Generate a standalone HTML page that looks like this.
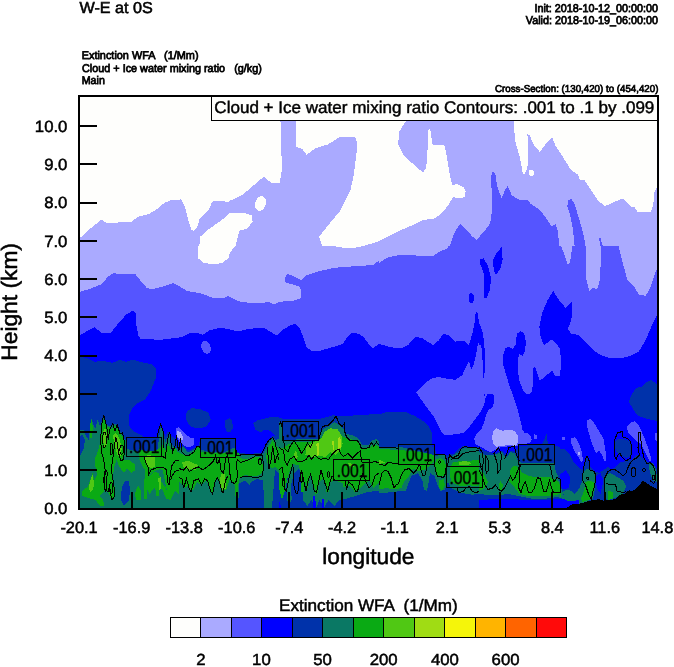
<!DOCTYPE html>
<html><head><meta charset="utf-8"><title>W-E at 0S</title>
<style>
html,body{margin:0;padding:0;background:#fff;}
body{width:674px;height:667px;position:relative;overflow:hidden;font-family:"Liberation Sans",sans-serif;color:#000;}
.t{position:absolute;white-space:nowrap;line-height:1;will-change:transform;-webkit-font-smoothing:antialiased;}
</style></head><body>
<svg width="674" height="667" viewBox="0 0 674 667" style="position:absolute;left:0;top:0" shape-rendering="crispEdges">
<defs><clipPath id="pc"><rect x="79" y="96" width="579" height="412"/></clipPath></defs>
<g clip-path="url(#pc)">
<rect x="79" y="96" width="579" height="412" fill="#AAAAFF"/>
<polygon points="79,96 279.6,96.0 281.2,141.0 281.8,170.2 279.6,183.3 271.7,183.3 263.9,176.5 251.5,187.1 242.5,195.0 229.0,201.2 229.0,201.7 213.9,201.0 211.7,202.8 208.3,210.7 199.3,219.7 197.1,227.6 194.1,230.9 191.4,229.8 188.1,219.7 184.7,206.2 181.3,199.4 171.2,200.1 164.5,202.8 155.5,210.2 148.7,214.1 137.5,217.0 131.8,221.5 119.5,222.4 107.1,223.1 101.5,219.7 90.2,228.7 79.0,238.8" fill="#FEFEFC" />
<polygon points="295.3,96.0 295.8,146.6 302.1,148.8 306.6,154.9 315.6,148.2 328.0,144.4 340.3,136.5 356.1,137.6 357.2,147.7 353.8,174.7 350.4,190.5 340.3,210.7 329.1,224.2 319.0,236.6 322.3,246.0 332.4,246.0 343.7,247.8 354.9,247.8 363.9,246.0 379.0,241.1 390.2,235.4 401.5,229.8 415.0,224.2 424.0,219.7 433.0,219.2 439.7,215.2 447.6,206.2 453.2,197.2 458.8,198.3 464.5,197.2 465.6,191.6 463.3,187.1 457.7,184.2 452.1,184.8 449.8,174.7 446.5,154.5 444.2,144.4 438.6,145.5 432.5,144.4 430.3,129.3 428.0,129.7 427.4,154.5 426.2,168.0 422.9,172.5 415.0,165.7 403.7,155.6 398.1,144.4 399.2,132.0 406.0,120.7 406.0,96.0" fill="#FEFEFC" />
<polygon points="513.5,96.0 513.5,120.7 515.1,141.0 519.6,156.7 522.9,173.6 524.0,174.7 527.4,168.0 528.5,152.2 527.4,134.2 529.6,135.4 534.1,145.5 539.7,151.8 546.5,143.2 552.1,137.2 555.5,145.5 563.4,157.8 571.2,170.2 578.0,174.7 580.2,180.3 584.7,180.3 591.5,190.5 598.2,200.6 605.0,206.2 610.6,203.5 616.2,201.2 623.0,198.3 627.4,202.8 631.9,207.3 634.2,206.2 637.6,212.5 643.2,211.8 651.1,211.8 653.3,203.9 654.4,192.7 656.7,187.1 658.9,186.0 658.9,96.0" fill="#FEFEFC" />
<polygon points="199.3,246.0 200.4,236.6 209.4,228.7 220.7,220.8 229.0,214.1 229.0,212.9 242.5,212.5 251.5,215.2 252.6,221.9 247.0,228.7 239.1,230.9 235.7,246.0 235.7,246.0 232.4,249.4 229.0,255.0 229.0,257.2 222.9,262.9 213.9,264.4 203.8,262.9 198.2,258.4 198.2,246.0" fill="#FEFEFC" />
<ellipse cx="260.5" cy="203.5" rx="5.2" ry="7.6" fill="#FEFEFC" transform="rotate(15 260.5 203.5)"/>
<ellipse cx="531.4" cy="173" rx="2.7" ry="3.2" fill="#FEFEFC" transform="rotate(0 531.4 173)"/>
<polygon points="79.0,292.1 90.2,288.7 101.5,284.2 108.2,276.4 112.7,273.4 135.2,274.1 139.7,279.7 146.5,287.6 151.0,289.4 162.2,286.9 173.5,283.1 178.0,285.4 186.9,291.0 200.4,293.2 213.9,298.2 222.9,298.2 229.0,295.9 229.0,296.6 238.0,301.1 251.5,303.3 262.7,302.7 269.5,302.2 274.0,304.5 279.6,301.8 294.2,300.6 300.5,298.2 301.4,289.9 299.2,286.5 292.0,284.2 285.2,282.4 284.5,278.6 287.0,274.1 290.8,274.8 296.5,277.5 301.4,280.2 306.6,275.2 319.0,271.2 334.7,267.8 354.9,266.2 372.9,265.1 379.0,260.6 379.0,262.9 388.0,257.2 399.2,255.0 412.7,255.4 433.0,256.1 439.7,251.6 447.6,248.2 448.7,246.0 449.8,246.0 454.3,233.2 460.0,223.7 465.6,228.7 472.3,236.6 476.8,239.9 482.4,233.2 489.2,225.3 491.4,217.4 492.1,197.2 490.8,177.0 492.6,171.3 495.3,173.6 497.1,186.0 501.6,198.3 504.9,190.5 507.6,186.0 511.7,195.0 518.4,199.4 529.0,200.6 530.7,203.9 537.5,208.4 544.2,215.2 548.7,221.9 551.0,226.4 555.5,224.2 557.7,230.9 559.5,246.0 561.1,246.0 564.5,255.0 567.9,265.1 570.1,261.7 572.4,246.0 574.6,246.0 573.9,237.7 572.4,226.4 570.1,215.2 567.4,206.2 567.9,200.6 571.2,199.0 574.6,203.9 578.0,215.2 581.3,226.4 584.3,237.7 585.2,246.0 585.8,246.0 586.5,279.7 589.2,291.0 593.7,287.6 597.1,289.9 600.0,279.7 600.9,257.2 600.5,246.0 599.3,239.9 599.8,235.4 601.6,242.2 602.7,246.0 618.5,246.0 623.0,264.0 627.4,279.7 634.2,286.5 638.7,294.4 645.4,295.9 649.9,288.7 654.4,275.2 658.9,264.0 658,508 79,508" fill="#5555FF" />
<polygon points="79.0,336.0 88.0,330.3 94.7,327.4 101.5,332.6 110.5,333.3 117.2,324.7 126.2,314.6 133.0,310.5 136.3,313.5 136.3,324.7 138.6,336.0 140.8,339.3 151.0,338.7 156.6,340.5 169.0,338.7 182.4,337.1 189.2,333.3 195.9,332.6 202.7,334.8 209.4,330.3 218.4,328.1 229.0,328.8 229.0,329.2 238.0,331.5 244.7,329.7 256.0,328.1 265.0,328.5 271.7,332.6 276.7,335.5 281.8,330.3 289.7,325.8 295.3,323.6 299.8,328.1 303.2,337.1 306.6,347.2 311.1,350.6 319.0,351.2 325.7,349.0 336.9,346.1 342.6,343.8 348.2,336.0 352.7,332.6 358.3,333.7 363.9,337.1 368.4,343.8 372.9,348.3 379.0,343.8 379.0,343.8 390.2,347.2 401.5,348.3 408.2,345.0 415.0,337.1 421.7,337.8 433.0,345.0 438.6,340.5 443.1,334.2 448.7,334.8 455.5,341.6 463.3,340.5 469.0,345.0 472.3,333.7 474.6,322.5 475.7,312.3 477.3,312.3 479.1,322.5 482.4,331.5 484.2,342.7 485.1,358.4 484.7,371.9 483.6,379.8 484.2,396.0 484,508 79,508" fill="#0000FF" />
<polygon points="479.7,345.0 480.2,362.9 481.3,377.6 483.6,379.8 482.4,358.4 481.3,345.0" fill="#5555FF" />
<ellipse cx="471.2" cy="298.2" rx="2.7" ry="5" fill="#0000FF" transform="rotate(0 471.2 298.2)"/>
<polygon points="480.2,259.5 483.6,258.4 488.1,266.2 490.8,277.5 490.3,288.7 486.9,297.7 483.6,297.7 484.0,286.5 483.6,273.0 480.2,264.0" fill="#0000FF" />
<polygon points="501.6,247.1 502.7,259.5 500.4,268.5 495.9,274.8 493.7,270.7 493.2,259.5 495.9,253.9" fill="#0000FF" />
<polygon points="519.6,331.5 524.1,334.8 525.6,342.7 524.1,351.7 520.2,355.1 516.6,349.4 515.7,340.5 517.3,333.7" fill="#0000FF" />
<ellipse cx="206" cy="347.2" rx="4.5" ry="6.7" fill="#5555FF" transform="rotate(-20 206 347.2)"/>
<polygon points="658.9,311.2 652.2,324.7 645.4,340.5 638.7,351.7 629.7,356.2 620.7,358.4 609.5,358.0 600.5,355.1 593.7,350.6 584.7,341.6 578.0,334.8 571.2,333.7 567.9,329.2 571.2,320.2 572.4,311.2 571.7,302.2 565.6,307.8 558.9,300.0 553.2,291.0 547.6,300.0 542.0,313.5 539.3,327.0 540.9,338.2 544.2,345.0 552.1,339.3 560.0,348.3 561.1,362.9 560.0,376.4 555.5,376.4 552.1,370.8 546.5,375.3 539.7,380.9 535.2,367.4 534.1,376.4 533.0,389.9 531.9,396.0 532,508 658,508" fill="#0000FF" />
<polygon points="483.5,394 533,394 533,508 483.5,508" fill="#0000FF" />
<polygon points="485,372 484.5,396 485.0,387.1 487.7,393.4 490.3,389.8 493.0,392.5 494.4,399.6 493.0,406.7 488.5,410.3 485.9,415.6 484.1,422.7 481.4,429.0 477.0,433.4 474.3,438.8 475.2,444.1 480.5,446.8 484.1,448.5 487.7,451.2 491.2,452.1 494.8,450.3 498.3,447.7 509.0,446.2 517.0,445.9 525.0,444.5 530.4,442.3 531.8,439.6 530.4,436.1 527.7,433.4 525.0,433.4 523.3,430.7 522.4,429.9 520.6,420.9 517.9,410.3 514.4,399.6 510.8,388.9 507.2,380.0 514.4,399.4 509.9,387.0 505.5,372.7" fill="#5555FF" />
<polygon points="502.8,356.7 505.5,347.8 509.0,346.9 512.6,348.7 516.1,344.2 517.0,335.3 520.6,330.9 524.2,333.6 525.9,342.5 525.0,351.4 522.4,355.8 519.7,354.0 517.9,358.5 517.9,370.9 519.7,381.6 523.3,390.5 526.8,394.1 530.4,392.3 532.2,383.4 533.1,370.9 533.9,365.6 536.6,370.9 537.5,378.1 540.0,381.6 540.0,409.9 518.8,409.9 514.4,399.4 509.9,387.0 505.5,372.7 502.8,363.8" fill="#0000FF" />
<polygon points="519.7,376.4 519.7,380.0 522.4,387.1 525.0,393.4 529.5,394.2 532.2,390.7 533.1,380.0 533.1,376.4" fill="#5555FF" />
<polygon points="416.1,392.2 424.0,384.3 430.7,378.7 438.6,376.9 446.5,378.7 455.5,379.8 462.2,375.3 465.6,367.4 469.0,360.7 471.2,369.7 473.5,365.2 476.2,353.9 478.0,342.7 479.7,345.0 480.2,362.9 481.3,377.6 483.6,379.8 484.5,396 485.0,387.1 487.7,393.4 485.0,399.6 484.1,404.9 480.5,412.0 475.2,419.2 469.9,426.3 464.5,432.5 455.6,434.3 444.9,435.2 441.4,431.6 437.8,424.5 434.2,417.4 428.9,410.3 423.6,403.1 420.0,397.8" fill="#5555FF" />
<polygon points="493.0,431.6 496.6,428.1 501.9,430.7 509.0,429.9 514.4,430.7 517.6,435.2 517.9,442.3 516.1,445.9 509.0,445.0 501.9,445.9 496.6,446.8 493.0,443.2 492.1,437.0" fill="#AAAAFF" />
<polygon points="587.0,420.5 590.7,419.0 594.5,423.5 599.0,431.0 603.5,438.5 605.0,447.5 606.5,458.0 605.0,462.5 602.0,455.0 599.0,450.5 596.0,453.5 593.0,446.0 590.0,437.0 587.0,426.5" fill="#5555FF" />
<polygon points="571.2,438.5 575.0,437.0 578.7,443.0 581.7,452.0 583.2,461.0 581.0,462.5 578.0,456.5 574.2,450.5 571.2,443.0" fill="#5555FF" />
<polygon points="626.7,426.5 630.5,422.7 635.0,421.2 639.5,426.5 644.0,437.0 648.5,449.0 651.5,459.5 650.0,461.7 645.5,453.5 641.0,444.5 636.5,441.5 632.0,437.0 628.2,432.5" fill="#5555FF" />
<polygon points="654.5,434.0 658.2,431.7 658.2,441.5 655.2,440.0" fill="#5555FF" />
<polygon points="561.8,436.7 565.2,437.0 565.2,440.0 562.2,439.7" fill="#5555FF" />
<polygon points="533.7,433.2 536.7,435.5 536.7,439.2 533.7,438.5" fill="#5555FF" />
<polygon points="577.7,452.3 579.8,452.3 579.8,454.7 577.7,454.7" fill="#AAAAFF" />
<polygon points="79.0,356.2 88.0,358.4 94.7,361.8 101.5,360.7 112.7,362.9 119.5,359.6 126.2,361.8 133.0,359.6 139.7,361.8 151.0,364.1 156.6,368.6 155.5,378.7 151.0,389.9 147.6,396.0 144.2,400.2 138.6,402.5 133.0,407.0 129.6,413.7 128.5,421.6 128.5,425.0 133.0,431.0 139.0,434.0 143.5,436.7 157.0,436.7 158.5,428.0 160.7,422.7 163.0,429.5 165.2,436.7 168.2,431.0 170.5,435.5 175.0,438.5 179.0,446.0 179.0,447.5 183.5,445.2 188.0,450.5 194.0,448.2 198.5,445.2 200.7,438.5 235.2,438.5 236.7,452.0 245.0,453.5 254.0,453.5 263.0,452.7 266.0,446.0 269.0,440.0 272.0,436.2 275.0,435.5 270.5,431.0 264.5,429.5 260.0,432.5 255.5,429.5 253.2,423.5 257.0,420.5 263.0,419.0 269.0,417.5 275.0,416.7 279.0,417.5 283.5,419.0 318.0,419.0 322.5,418.2 328.5,416.7 333.0,415.2 339.0,416.0 346.5,416.0 357.0,415.2 369.0,414.5 379.0,413.7 379.0,414.5 386.5,412.2 397.0,411.5 406.0,412.2 415.0,416.0 422.5,420.5 428.5,426.5 431.5,432.5 431.5,444.5 435.2,449.0 436.0,455.0 446.5,455.0 454.0,453.5 458.5,449.0 463.0,446.0 479.0,447.5 483.5,450.5 494.0,453.5 501.5,450.5 506.0,455.0 510.5,450.5 515.0,452.0 519.5,446.0 542.0,444.5 546.5,434.0 548.0,444.5 554.7,445.2 560.0,447.5 560.0,449.0 564.5,449.0 569.0,453.5 573.5,462.5 578.0,467.0 582.5,470.0 587.0,456.5 590.0,467.0 594.5,471.5 599.0,473.0 603.5,470.0 608.0,467.0 611.0,470.0 615.5,467.0 620.0,462.5 626.0,461.0 632.0,459.5 636.5,455.0 641.0,456.5 645.5,461.0 650.0,462.5 659.0,470.0 658,508 79,508" fill="#0032AA" />
<polygon points="186.9,411.5 191.4,408.1 200.4,409.2 208.3,412.6 210.6,419.4 207.2,426.1 200.4,428.4 191.4,427.2 186.9,421.6 185.8,416.0" fill="#0032AA" />
<polygon points="225.5,420.5 229.2,418.2 232.2,421.2 233.0,428.0 230.0,432.5 226.2,431.0 224.7,425.0" fill="#0032AA" />
<polygon points="630.8,396 636.4,387.7 641,387.2 646.6,382 651,379.8 655.5,383.2 659,385.4 659,421.3 647,419 638,416 633.5,410 629,402" fill="#0032AA" />
<polygon points="614.0,441.5 618.5,438.5 624.5,439.2 630.5,441.5 632.0,449.0 630.5,456.5 626.0,458.0 620.0,455.0 616.2,452.0" fill="#0032AA" />
<polygon points="175.7,428.7 179.0,427.2 183.9,432.5 189.9,437.7 194.4,438.5 193.7,445.2 188.4,447.5 183.9,445.2 179.4,442.2 176.2,434.7" fill="#5555FF" />
<polygon points="176.8,431.0 180.2,431.7 183.2,437.7 182.3,440.7 179.0,439.2 176.8,435.5" fill="#AAAAFF" />
<polygon points="560.0,474.5 566.0,470.0 570.5,477.5 569.0,488.0 563.0,489.5 560.0,485.0" fill="#0000FF" />
<polygon points="596.0,476.0 600.5,473.0 603.5,480.5 600.5,494.0 596.7,488.0" fill="#0000FF" />
<polygon points="79.0,429.5 83.5,429.5 86.5,437.0 88.7,440.0 90.2,425.0 91.7,418.2 93.2,425.0 95.5,428.0 97.7,419.0 100.0,426.5 103.7,415.2 106.7,425.0 111.2,426.5 115.0,423.5 118.7,429.5 122.5,435.5 125.5,440.0 127.0,449.0 139.0,452.0 157.0,452.7 160.0,431.0 161.2,424.2 163.0,431.0 165.2,443.0 169.0,432.5 170.5,440.0 173.5,447.5 179.0,449.0 179.0,449.0 183.5,446.7 188.0,452.7 194.0,449.7 198.5,446.7 201.5,449.7 209.0,452.0 224.0,452.7 234.5,447.5 236.7,454.2 245.0,455.0 263.0,454.2 266.0,447.5 269.0,441.5 272.7,437.7 275.7,440.0 279.0,438.5 279.0,422.0 282.0,425.0 283.5,440.0 319.5,438.5 321.0,432.5 324.0,428.0 328.5,426.5 334.5,422.0 339.0,425.0 343.5,429.5 345.0,434.0 351.0,434.7 358.5,438.5 361.5,444.5 369.0,444.5 372.0,440.0 376.5,439.2 379.0,441.5 379.0,446.7 399.2,446.7 434.5,455.0 436.0,456.5 439.0,455.0 445.0,455.0 447.2,461.0 449.5,456.5 454.0,455.0 458.5,452.0 463.0,448.2 472.0,447.5 479.0,449.0 479.0,452.0 485.0,455.0 494.0,455.0 501.5,452.0 506.0,458.0 510.5,452.0 515.0,453.5 518.0,461.0 521.0,462.5 554.7,462.5 555.5,470.0 558.5,477.5 563.0,494.0 567.5,500.0 557.0,497.0 546.5,498.5 531.5,498.5 519.5,496.2 509.0,494.0 494.0,495.5 479.0,494.0 479.0,494.0 472.0,494.7 463.0,493.2 457.0,491.0 451.0,488.0 448.0,482.0 445.0,489.5 440.5,491.0 437.5,485.0 434.5,476.0 430.0,473.0 428.5,483.5 427.0,491.0 424.0,489.5 422.5,480.5 418.0,473.0 411.2,476.0 409.0,482.0 406.0,491.0 394.0,491.7 388.0,492.5 379.0,493.2 379.0,491.0 369.0,491.7 357.0,495.5 346.5,498.5 339.0,500.0 334.5,506.0 328.5,500.0 324.0,507.5 319.5,500.0 316.5,507.5 311.2,500.0 307.5,506.0 303.0,500.0 301.5,473.0 298.5,468.5 294.0,473.0 291.0,485.0 291.7,500.0 288.0,507.5 286.5,488.0 288.0,476.0 285.0,470.0 279.0,467.0 279.0,473.0 275.0,470.0 272.0,507.5 264.5,507.5 263.0,480.5 257.0,479.0 251.0,482.0 249.5,485.0 245.0,480.5 239.0,483.5 238.2,507.5 179.0,507.5 79,508" fill="#0A7864" />
<polygon points="582.5,473.0 587.0,468.5 592.2,470.0 596.0,476.0 595.2,488.0 593.0,498.5 584.0,503.0 575.0,504.5 569.0,506.0 564.5,500.0 563.0,491.0 569.0,489.5 575.0,494.0 579.5,488.0 582.5,480.5" fill="#0A7864" />
<polygon points="605.0,476.0 609.5,473.0 615.5,476.0 623.0,480.5 626.0,486.5 623.0,494.0 617.0,497.0 608.0,500.0 603.5,497.0 603.5,485.0" fill="#0A7864" />
<polygon points="648.5,464.0 653.0,462.5 656.0,470.0 657.5,482.0 653.0,480.5 650.0,473.0" fill="#0A7864" />
<polygon points="121.7,488.0 125.5,480.5 128.5,480.5 130.0,488.0 129.2,500.0 124.0,506.0 121.0,500.0" fill="#0032AA" />
<polygon points="79.0,437.0 82.0,434.0 85.0,440.0 83.5,449.0 80.5,455.0 79.0,452.0" fill="#0032AA" />
<polygon points="101.5,425.0 104.5,417.5 107.5,426.5 111.2,429.5 115.0,425.0 119.5,432.5 124.0,438.5 125.5,449.0 124.0,459.5 128.5,459.5 134.5,464.0 135.2,470.0 131.5,473.0 127.0,468.5 124.0,473.0 119.5,467.0 116.5,459.5 114.2,467.0 112.7,477.5 115.0,488.0 114.2,497.0 111.2,500.0 109.0,494.0 105.2,489.5 101.5,494.0 97.0,498.5 94.0,494.0 91.7,488.0 94.0,480.5 97.0,474.5 95.5,467.0 94.7,459.5 97.7,452.0 100.0,443.0 100.7,432.5" fill="#0AAA14" />
<polygon points="82.0,491.0 88.0,486.5 92.5,473.0 94.0,479.0 95.5,488.0 98.5,494.0 103.0,500.0 104.5,506.0 100.0,506.0 95.5,500.0 89.5,498.5 85.0,497.0 82.0,495.5" fill="#0AAA14" />
<polygon points="89.5,428.0 91.3,419.0 92.8,426.5 92.2,437.0 90.2,438.5" fill="#0AAA14" />
<polygon points="139.0,459.5 143.5,455.0 161.5,455.0 166.0,449.0 169.0,455.0 175.0,459.5 179.0,459.5 179.0,473.0 175.0,470.0 170.5,473.0 169.0,485.0 167.5,473.0 163.0,468.5 157.0,470.0 151.0,473.0 148.0,476.0 145.0,470.0 142.0,465.5" fill="#0AAA14" />
<polygon points="134.5,494.0 138.2,485.0 141.2,491.0 140.5,500.0 136.7,500.0" fill="#0AAA14" />
<polygon points="145.0,467.0 149.5,476.0 154.0,471.5 158.5,473.0 161.5,482.0 166.0,488.0 169.0,497.0 172.0,485.0 175.0,474.5 179.0,476.0 179.0,494.0 175.0,491.0 170.5,500.0 166.0,498.5 163.0,491.0 158.5,485.0 154.0,488.0 149.5,494.0 146.5,488.0 145.0,479.0" fill="#0AAA14" />
<polygon points="139.0,448.9 144.9,451.1 156.8,450.4 162.7,444.5 165.7,450.4 168.7,443.0 170.9,450.4 174.6,445.9 177.6,451.9 183.5,454.8 189.4,454.8 195.4,448.9 198.3,445.9 201.3,451.9 213.2,452.6 222.1,453.4 231.0,452.6 239.0,453.4 239.0,477.1 234.0,483.0 231.0,475.6 226.5,489.0 222.1,491.9 219.1,478.6 214.7,475.6 211.7,489.0 208.7,477.1 198.3,476.4 193.9,489.0 190.9,491.9 188.0,478.6 179.1,477.1 174.6,475.6 170.9,489.0 168.7,497.9 165.7,484.5 162.7,469.7 156.8,468.9 150.9,469.7 147.9,475.6 144.9,469.7 142.0,460.8 139.0,457.8" fill="#0AAA14" />
<polygon points="143.5,478.6 147.9,478.6 146.9,499.3 144.5,499.3" fill="#0AAA14" />
<polygon points="153.8,477.1 161.3,477.1 158.7,496.4 156.4,496.4" fill="#0AAA14" />
<polygon points="188.0,477.1 193.9,477.1 192.1,491.9 189.7,491.9" fill="#0AAA14" />
<polygon points="234.0,477.1 239.0,477.1 237.7,496.4 235.3,496.4" fill="#0AAA14" />
<polygon points="179.0,453.5 183.5,455.0 188.0,455.0 192.5,452.0 197.0,449.0 201.5,453.5 209.0,455.0 216.5,454.2 224.0,455.0 230.0,456.5 234.5,449.0 236.7,455.0 240.5,458.0 245.0,459.5 251.0,458.0 257.0,456.5 261.5,458.0 263.0,467.0 262.2,473.0 257.0,476.0 249.5,476.0 245.0,474.5 240.5,477.5 236.7,482.0 233.0,483.5 230.0,480.5 227.0,477.5 224.0,491.0 222.5,492.5 219.5,482.0 216.5,477.5 214.2,488.0 212.0,494.0 209.0,486.5 206.0,480.5 201.5,485.0 197.0,482.0 194.0,488.0 191.0,492.5 188.0,485.0 185.0,488.0 182.0,485.0 179.0,482.0" fill="#0AAA14" />
<polygon points="266.0,455.0 269.0,446.0 272.7,440.0 275.7,444.5 279.0,449.0 279.0,470.0 275.0,467.0 272.0,468.5 269.0,465.5 266.7,461.0" fill="#0AAA14" />
<polygon points="279.0,449.0 283.5,447.5 288.0,444.5 294.0,442.2 301.5,441.5 309.0,442.2 316.5,440.0 322.5,437.0 325.5,432.5 333.0,430.2 339.0,432.5 343.5,437.0 348.0,438.5 357.0,440.7 360.7,447.5 369.0,447.5 373.5,444.5 379.0,446.0 379.0,482.0 373.5,488.0 369.0,480.5 363.0,485.0 357.0,491.7 354.0,491.0 349.5,486.5 343.5,483.5 334.5,480.5 330.0,482.0 327.0,491.0 324.0,477.5 319.5,482.0 316.5,494.0 313.5,485.0 310.5,474.5 307.5,488.0 304.5,480.5 301.5,470.0 298.5,465.5 292.5,464.0 288.0,476.0 285.0,491.0 282.0,500.0 279.0,488.0" fill="#0AAA14" />
<polygon points="379.0,449.0 394.0,449.7 409.0,450.8 424.0,452.7 434.5,455.0 435.2,461.0 430.0,465.5 424.0,470.0 416.5,471.5 413.5,468.5 409.0,476.0 404.5,480.5 401.5,488.0 394.0,489.5 386.5,488.0 379.0,489.5" fill="#0AAA14" />
<polygon points="436.0,459.5 440.5,458.0 445.0,461.0 446.5,470.0 445.0,476.0 439.0,476.7 436.0,473.0 434.5,465.5" fill="#0AAA14" />
<polygon points="439.0,480.5 443.5,479.0 445.0,485.0 442.0,491.0 439.0,488.0" fill="#0AAA14" />
<polygon points="452.5,462.5 460.0,461.0 469.0,461.0 479.0,459.5 479.0,485.0 475.0,486.5 469.0,485.0 463.0,486.5 457.0,485.0 451.0,482.0 449.5,470.0" fill="#0AAA14" />
<polygon points="479.0,470.0 483.5,473.0 488.0,482.0 485.0,488.0 479.0,491.0" fill="#0AAA14" />
<polygon points="510.5,470.0 513.5,465.5 518.0,467.0 522.5,473.0 528.5,476.0 539.0,477.5 549.5,476.7 557.0,480.5 560.7,485.0 560.0,494.0 551.0,496.2 539.0,495.5 528.5,496.2 519.5,494.0 515.0,488.0 509.0,482.0" fill="#0AAA14" />
<polygon points="500.0,480.5 503.0,485.0 501.5,491.0 498.5,488.0" fill="#0AAA14" />
<polygon points="585.5,482.0 590.0,480.5 593.7,482.0 594.5,488.0 592.2,498.5 582.5,502.2 581.0,498.5 584.0,491.0" fill="#0AAA14" />
<polygon points="608.0,491.0 612.5,491.7 612.5,498.5 608.0,500.0" fill="#0AAA14" />
<polygon points="560.0,491.0 561.5,494.0 560.0,498.5" fill="#0AAA14" />
<polygon points="90.2,480.5 92.5,474.5 94.0,482.0 93.2,489.5 90.2,492.5 88.7,488.0" fill="#50C814" />
<polygon points="103.0,432.5 105.2,428.0 107.5,435.5 106.7,444.5 104.5,447.5 102.7,440.0" fill="#50C814" />
<polygon points="112.7,435.5 115.7,432.5 119.5,438.5 121.7,449.0 120.2,458.0 117.2,455.0 115.0,446.0" fill="#50C814" />
<polygon points="146.5,458.0 151.0,456.5 154.0,461.0 151.0,465.5 147.2,464.0" fill="#50C814" />
<polygon points="183.5,462.5 188.0,461.0 192.5,465.5 189.5,470.0 185.0,468.5" fill="#50C814" />
<polygon points="221.0,476.0 223.2,473.0 224.7,480.5 223.2,488.0 221.0,483.5" fill="#50C814" />
<polygon points="305.4,454.6 306.6,446.2 312.6,442.6 321.0,439.0 324.6,431.8 330.6,428.2 337.8,429.4 341.4,435.4 342.6,443.8 340.2,451.0 335.4,454.6 330.6,452.2 325.8,457.0 318.6,455.8 312.6,457.0" fill="#50C814" />
<polygon points="316.4,443.8 318.6,442.6 319.3,454.6 317.1,455.8" fill="#A0DC14" />
<polygon points="338.0,437.8 340.4,436.6 340.9,447.4 338.5,448.6" fill="#A0DC14" />
<polygon points="332.4,441.4 333.9,440.8 334.2,449.8 332.7,450.0" fill="#A0DC14" />
<polygon points="299.4,466.6 305.4,466.6 303.6,491.8 301.2,491.8" fill="#0AAA14" />
<polygon points="312.6,466.6 319.8,466.6 317.4,494.2 315.0,494.2" fill="#0AAA14" />
<polygon points="324.6,466.6 330.6,466.6 328.8,491.8 326.4,491.8" fill="#0AAA14" />
<polygon points="352.2,477.4 358.2,477.4 356.4,491.8 354.0,491.8" fill="#0AAA14" />
<polygon points="341.4,477.4 347.4,477.4 345.6,487.0 343.2,487.0" fill="#0AAA14" />
<polygon points="294.0,453.5 296.2,450.5 297.7,456.5 295.8,461.0" fill="#50C814" />
<polygon points="458.5,462.5 463.0,461.0 469.0,461.7 472.0,464.0 463.0,465.5 458.5,464.7" fill="#50C814" />
<polygon points="379.0,459.5 385.0,462.5 379.0,464.0" fill="#50C814" />
<polygon points="348.0,462.5 352.5,464.0 354.0,467.0 349.5,466.2" fill="#50C814" />
<polygon points="144.9,456.3 149.4,454.8 155.3,457.8 155.3,466.7 150.9,468.2 146.4,465.2" fill="#50C814" />
<polygon points="182.0,462.3 188.0,460.8 198.3,465.2 195.4,469.7 188.0,468.9 183.5,467.4" fill="#50C814" />
<polygon points="220.6,474.1 225.1,474.1 225.8,489.0 222.1,490.4 220.3,483.0" fill="#50C814" />
<polygon points="158.3,478.6 160.5,477.1 161.3,489.0 159.0,490.4" fill="#50C814" />
<polygon points="279.0,500.0 281.2,507.5 279.0,507.5" fill="#0000FF" />
<polygon points="313.2,496.2 315.0,495.5 316.2,507.5 313.5,507.5" fill="#0000FF" />
<polygon points="322.2,498.5 323.7,498.5 324.3,507.5 322.5,507.5" fill="#0000FF" />
<polygon points="479.0,500.0 494.0,499.2 509.0,498.5 524.0,500.0 546.5,500.0 563.0,498.5 569.0,501.5 579.0,500.0 579.0,507.5 479.0,507.5" fill="#0000FF" />
<polygon points="566.0,508.2 572.0,504.5 579.5,503.7 587.0,501.5 594.5,500.0 599.0,499.2 603.5,500.7 609.5,500.0 615.5,499.2 620.0,494.7 624.5,494.0 629.0,490.2 632.0,491.0 635.0,489.5 639.5,485.0 642.5,481.2 645.5,482.0 650.0,485.7 654.5,488.0 659.0,489.5 659.0,509.0 566.0,509.0" fill="#000" />
<path d="M101.5,425.0 L103.7,415.2 L106.7,426.5 L108.2,440.0 L109.7,429.5 L112.7,423.5 L115.0,431.0 L117.2,425.0 L120.2,434.0 L122.5,432.5 L124.0,440.0 L124.7,452.0 L123.2,459.5 L121.0,461.0 L118.7,453.5 L117.2,443.0 L115.7,437.0 L114.2,447.5 L112.7,459.5 L111.2,470.0 L112.7,477.5 L114.2,488.0 L114.2,497.0 L112.0,500.0 L110.5,494.0 L109.7,485.0 L108.2,491.7 L106.7,491.0 L106.0,482.0 L107.5,473.0 L106.0,470.0 L104.5,477.5 L104.8,488.0 L106.0,491.7 L104.5,489.5 L103.7,479.0 L105.2,470.0 L103.7,459.5 L101.5,452.0 L100.7,440.0 Z" fill="none" stroke="#000" stroke-width="1"/>
<ellipse cx="104.5" cy="440.0" rx="1.8" ry="7.5" fill="none" stroke="#000" stroke-width="1"/>
<ellipse cx="121.7" cy="449.7" rx="1.8" ry="4.5" fill="none" stroke="#000" stroke-width="1"/>
<ellipse cx="111.2" cy="449.0" rx="1.2" ry="6.0" fill="none" stroke="#000" stroke-width="1"/>
<ellipse cx="111.2" cy="488.0" rx="1.5" ry="6.0" fill="none" stroke="#000" stroke-width="1"/>
<path d="M163.0,447.5 L163.0,431.0 L160.7,424.2 L158.5,431.0 L157.3,436.7" fill="none" stroke="#000" stroke-width="1"/>
<path d="M161.5,455.7 L165.2,458.0 L167.5,440.0 L169.7,431.7 L171.2,444.5 L172.7,452.0 L175.0,446.0 L176.5,435.5 L178.0,447.5 L179.0,450.5" fill="none" stroke="#000" stroke-width="1"/>
<path d="M143.5,455.7 L145.7,462.5 L148.0,467.0 L148.7,474.5 L151.0,470.0 L157.0,467.7 L163.0,467.0 L166.7,470.0 L167.5,482.0 L169.0,485.0 L170.5,473.0 L172.0,465.5 L175.0,461.0 L179.0,460.2" fill="none" stroke="#000" stroke-width="1"/>
<path d="M179.0,470.0 L175.0,471.5 L172.0,476.0 L170.5,480.5" fill="none" stroke="#000" stroke-width="1"/>
<path d="M179.0,450.5 L180.5,438.5 L182.0,452.0 L185.0,455.0 L189.5,455.0 L194.0,452.0 L197.0,446.0 L200.7,447.5" fill="none" stroke="#000" stroke-width="1"/>
<path d="M235.7,447.5 L236.7,455.0 L240.5,455.0 L249.5,454.2 L261.5,454.2 L266.0,444.5 L269.0,440.0 L272.7,437.7 L275.0,442.2 L276.5,449.0 L279.0,455.0" fill="none" stroke="#000" stroke-width="1"/>
<path d="M179.0,468.5 L183.5,470.0 L186.5,467.0 L189.5,471.5 L194.0,468.5 L198.5,467.0 L203.0,470.0 L209.0,465.5 L213.5,461.0 L215.7,455.0 L217.2,464.0 L219.5,459.5 L221.0,470.0 L223.2,473.0 L224.7,467.0 L225.5,458.0 L227.7,455.0 L229.2,464.0 L230.0,474.5 L231.5,482.0 L234.5,483.5 L236.7,480.5 L237.5,473.0 L236.0,464.0 L237.5,459.5 L240.5,462.5 L245.0,461.0 L249.5,459.5 L257.0,455.0 L262.2,455.0 L263.7,467.0 L262.2,476.0 L257.0,477.5 L249.5,476.7 L245.0,476.0 L240.5,477.5" fill="none" stroke="#000" stroke-width="1"/>
<path d="M179.0,477.5 L182.0,479.0 L183.5,488.0 L186.5,479.0 L189.5,489.5 L191.0,491.7 L194.0,480.5 L198.5,479.0 L201.5,485.0 L204.5,479.0 L207.5,480.5 L210.5,491.0 L212.7,494.0 L215.0,482.0 L217.2,477.5 L219.5,482.0 L221.7,491.0 L223.2,492.5 L225.5,480.5 L227.7,476.0" fill="none" stroke="#000" stroke-width="1"/>
<ellipse cx="260.0" cy="461.7" rx="1.5" ry="3.0" fill="none" stroke="#000" stroke-width="1"/>
<path d="M267.5,447.5 L269.0,468.5 L271.2,459.5 L272.7,446.0 L275.0,462.5 L277.2,455.0 L279.0,459.5" fill="none" stroke="#000" stroke-width="1"/>
<path d="M279.0,425.0 L280.5,422.0 L282.0,426.5 L283.5,440.0" fill="none" stroke="#000" stroke-width="1"/>
<path d="M318.7,440.0 L322.5,426.5 L328.5,425.0 L333.0,420.5 L336.0,416.0 L339.0,423.5 L342.0,426.5 L344.2,423.5 L345.0,432.5 L346.5,437.0 L349.5,440.0 L357.0,440.0 L360.0,444.5 L360.7,447.5 L363.0,449.0 L369.0,447.5 L371.2,442.2 L373.5,446.0 L376.5,442.2 L379.0,445.2" fill="none" stroke="#000" stroke-width="1"/>
<path d="M279.0,447.5 L283.5,450.5 L285.0,461.0 L287.2,465.5 L289.5,459.5 L294.0,456.5 L297.0,461.0 L301.5,461.7 L306.0,459.5 L309.0,455.0 L311.2,459.5 L315.0,455.0 L318.0,458.0 L321.0,459.5 L324.0,458.0 L328.5,459.5 L331.5,455.0 L336.0,450.5 L339.0,449.0 L340.5,453.5 L343.5,456.5 L348.0,453.5 L352.5,458.0 L357.0,453.5 L360.7,450.5 L360.7,455.0 L362.2,462.5 L369.7,462.5 L375.0,461.7 L379.0,462.5" fill="none" stroke="#000" stroke-width="1"/>
<path d="M283.5,440.0 L285.0,449.0 L288.0,452.0 L290.2,446.0 L294.0,440.7 L298.5,447.5 L301.5,453.5 L304.5,449.0 L307.5,443.0 L310.5,447.5 L313.5,440.0 L318.7,440.0" fill="none" stroke="#000" stroke-width="1"/>
<path d="M279.0,470.0 L282.0,467.0 L283.5,476.0 L285.0,489.5 L286.5,491.0 L288.7,479.0 L292.5,465.5 L294.0,470.0 L293.2,482.0 L295.5,492.5 L297.7,494.0 L299.2,480.5 L301.5,470.0 L303.7,480.5 L306.0,491.0 L308.2,480.5 L310.5,474.5 L312.7,482.0 L314.2,491.0 L316.5,492.5 L318.7,482.0 L321.0,470.0 L323.2,477.5 L325.5,485.0 L327.7,491.0 L330.0,482.0 L332.2,476.0 L334.5,479.7" fill="none" stroke="#000" stroke-width="1"/>
<path d="M345.0,479.7 L346.5,489.5 L348.7,482.0 L352.5,485.0 L355.5,491.0 L357.7,491.0 L360.0,480.5 L363.0,473.0 L366.0,482.0 L369.0,488.0 L372.0,485.0 L375.0,476.0 L379.0,473.0" fill="none" stroke="#000" stroke-width="1"/>
<ellipse cx="283.5" cy="482.0" rx="1.2" ry="4.5" fill="none" stroke="#000" stroke-width="1"/>
<ellipse cx="301.5" cy="477.5" rx="1.2" ry="4.5" fill="none" stroke="#000" stroke-width="1"/>
<ellipse cx="328.5" cy="474.5" rx="0.9" ry="3.0" fill="none" stroke="#000" stroke-width="1"/>
<path d="M379.0,447.5 L388.0,447.5 L399.2,448.2" fill="none" stroke="#000" stroke-width="1"/>
<path d="M434.5,455.0 L445.0,454.7 L446.5,459.5 L447.2,467.0 L449.5,455.0 L452.5,458.0 L458.5,455.0 L460.7,449.0 L464.5,446.7 L472.0,447.5 L479.0,448.2" fill="none" stroke="#000" stroke-width="1"/>
<path d="M451.0,459.5 L454.0,458.0 L458.5,458.0 L463.0,453.5 L469.0,452.0 L475.0,451.2 L479.0,450.5" fill="none" stroke="#000" stroke-width="1"/>
<path d="M379.0,464.0 L385.0,465.5 L388.0,462.5 L394.0,463.2 L399.2,464.0" fill="none" stroke="#000" stroke-width="1"/>
<path d="M419.5,464.0 L421.0,470.0 L423.2,476.0 L425.5,474.5 L427.0,464.0 L428.5,461.0 L430.7,459.5" fill="none" stroke="#000" stroke-width="1"/>
<path d="M434.5,459.5 L435.2,470.0 L437.5,476.0 L443.5,477.5 L445.7,473.0 L446.5,461.0 L445.0,455.0" fill="none" stroke="#000" stroke-width="1"/>
<path d="M379.0,485.0 L382.0,473.0 L385.0,470.0 L388.0,471.5 L391.0,477.5 L394.0,488.0 L396.2,485.0 L398.5,483.5 L401.5,474.5 L404.5,470.0 L409.0,468.5 L413.5,473.0 L416.5,470.0 L419.5,464.0" fill="none" stroke="#000" stroke-width="1"/>
<ellipse cx="439.7" cy="462.0" rx="1.2" ry="1.2" fill="none" stroke="#000" stroke-width="1"/>
<path d="M457.0,487.2 L458.5,492.5 L463.0,491.7 L466.0,488.0 L469.0,486.5 L472.0,491.0 L475.0,492.5 L479.0,491.7" fill="none" stroke="#000" stroke-width="1"/>
<path d="M479.0,447.5 L482.0,452.0 L483.5,461.0 L482.0,470.0 L480.5,467.0 L479.0,455.0" fill="none" stroke="#000" stroke-width="1"/>
<path d="M485.0,455.0 L488.0,459.5 L488.7,470.0 L486.5,473.0 L485.0,467.0 Z" fill="none" stroke="#000" stroke-width="1"/>
<path d="M494.0,453.5 L498.5,447.5 L501.5,455.0 L500.0,470.0 L497.7,473.0 L497.0,462.5 Z" fill="none" stroke="#000" stroke-width="1"/>
<path d="M504.5,459.5 L509.0,447.5 L514.2,446.0 L516.5,455.0 L519.5,461.0" fill="none" stroke="#000" stroke-width="1"/>
<path d="M479.0,470.0 L482.0,476.0 L485.0,485.0 L488.0,489.5 L492.5,488.0 L495.5,485.0 L498.5,489.5 L501.5,491.0 L504.5,488.0 L507.5,482.0 L510.5,476.0 L512.7,480.5 L515.0,477.5 L518.0,470.0 L520.2,464.0" fill="none" stroke="#000" stroke-width="1"/>
<path d="M549.5,464.0 L551.0,470.0 L552.5,477.5 L554.0,482.0 L557.0,477.5 L560.0,479.0 L560.7,492.5 L554.0,492.5 L552.5,491.0 L549.5,480.5 L546.5,491.0 L543.5,491.0 L540.5,479.0 L537.5,477.5 L534.5,488.0 L531.5,492.5 L528.5,492.5 L525.5,482.0 L523.2,485.0 L521.0,492.5 L518.7,488.0 L519.5,476.0 L520.2,464.0" fill="none" stroke="#000" stroke-width="1"/>
<path d="M591.5,500.0 L592.2,494.0 L594.5,486.5 L596.0,477.5 L594.5,471.5 L590.0,470.0 L589.2,461.0 L587.0,455.7 L585.5,459.5 L583.2,470.0 L582.5,480.5 L585.5,485.0 L588.5,494.0 Z" fill="none" stroke="#000" stroke-width="1"/>
<ellipse cx="587.7" cy="478.2" rx="1.2" ry="1.2" fill="none" stroke="#000" stroke-width="1"/>
<path d="M605.0,500.0 L604.2,488.0 L605.0,477.5 L608.0,471.5 L611.7,469.2 L615.5,470.0 L620.0,473.0 L623.0,476.0 L626.0,473.0 L628.2,467.0 L630.5,462.5 L633.5,459.5 L636.5,458.0 L639.5,455.0 L638.0,447.5 L638.7,432.5 L640.2,432.5 L641.7,447.5 L644.0,458.0 L647.0,464.0 L650.0,462.5 L653.0,465.5 L655.2,471.5 L656.0,479.0 L653.7,483.5 L650.0,480.5" fill="none" stroke="#000" stroke-width="1"/>
<path d="M614.0,441.5 L617.7,432.5 L622.2,431.7 L623.0,437.0 L627.5,438.5 L630.5,441.5 L632.0,449.0 L630.5,458.0 L626.0,461.0 L621.5,456.5 L620.0,453.5 L617.7,455.0 L616.2,459.5 L614.0,455.0 Z" fill="none" stroke="#000" stroke-width="1"/>
<path d="M606.5,483.5 L611.0,485.0 L615.5,484.2 L617.0,491.0 L623.0,492.5 L626.0,491.7" fill="none" stroke="#000" stroke-width="1"/>
<ellipse cx="633.5" cy="472.2" rx="2.2" ry="4.5" fill="none" stroke="#000" stroke-width="1"/>
<ellipse cx="644.0" cy="470.0" rx="1.2" ry="1.2" fill="none" stroke="#000" stroke-width="1"/>
<ellipse cx="653.7" cy="477.5" rx="1.2" ry="2.2" fill="none" stroke="#000" stroke-width="1"/>
<rect x="126.3" y="437" width="35.0" height="19.1" fill="none" stroke="#000" stroke-width="1"/>
<text x="144.2" y="452.9" font-family="Liberation Sans, sans-serif" font-size="17.5" text-anchor="middle" fill="#000" stroke="#000" stroke-width="0.35" textLength="30.5" lengthAdjust="spacingAndGlyphs">.001</text>
<rect x="200.0" y="438.5" width="35.5" height="19.1" fill="none" stroke="#000" stroke-width="1"/>
<text x="218.2" y="454.4" font-family="Liberation Sans, sans-serif" font-size="17.5" text-anchor="middle" fill="#000" stroke="#000" stroke-width="0.35" textLength="30.5" lengthAdjust="spacingAndGlyphs">.001</text>
<rect x="282.8" y="421.2" width="35.7" height="19.2" fill="none" stroke="#000" stroke-width="1"/>
<text x="301.1" y="437.2" font-family="Liberation Sans, sans-serif" font-size="17.5" text-anchor="middle" fill="#000" stroke="#000" stroke-width="0.35" textLength="30.5" lengthAdjust="spacingAndGlyphs">.001</text>
<rect x="333.8" y="459.5" width="35.7" height="20.6" fill="none" stroke="#000" stroke-width="1"/>
<text x="352.1" y="476.9" font-family="Liberation Sans, sans-serif" font-size="17.5" text-anchor="middle" fill="#000" stroke="#000" stroke-width="0.35" textLength="30.5" lengthAdjust="spacingAndGlyphs">.001</text>
<rect x="398.5" y="444.5" width="35.8" height="19.9" fill="none" stroke="#000" stroke-width="1"/>
<text x="416.9" y="461.2" font-family="Liberation Sans, sans-serif" font-size="17.5" text-anchor="middle" fill="#000" stroke="#000" stroke-width="0.35" textLength="30.5" lengthAdjust="spacingAndGlyphs">.001</text>
<rect x="446.3" y="466.6" width="35.9" height="21.0" fill="none" stroke="#000" stroke-width="1"/>
<text x="464.7" y="484.4" font-family="Liberation Sans, sans-serif" font-size="17.5" text-anchor="middle" fill="#000" stroke="#000" stroke-width="0.35" textLength="30.5" lengthAdjust="spacingAndGlyphs">.001</text>
<rect x="518.8" y="444.5" width="35.7" height="19.9" fill="none" stroke="#000" stroke-width="1"/>
<text x="537.1" y="461.2" font-family="Liberation Sans, sans-serif" font-size="17.5" text-anchor="middle" fill="#000" stroke="#000" stroke-width="0.35" textLength="30.5" lengthAdjust="spacingAndGlyphs">.001</text>
</g>
<rect x="211" y="96" width="447" height="24.5" fill="#FEFEFC" stroke="#000" stroke-width="1"/>
<rect x="78.5" y="95.5" width="579.5" height="413" fill="none" stroke="#000" stroke-width="2"/>
<rect x="79" y="469.4" width="18" height="2" fill="#000"/>
<rect x="79" y="431.1" width="18" height="2" fill="#000"/>
<rect x="79" y="392.9" width="18" height="2" fill="#000"/>
<rect x="79" y="354.6" width="18" height="2" fill="#000"/>
<rect x="79" y="316.4" width="18" height="2" fill="#000"/>
<rect x="79" y="278.2" width="18" height="2" fill="#000"/>
<rect x="79" y="239.9" width="18" height="2" fill="#000"/>
<rect x="79" y="201.7" width="18" height="2" fill="#000"/>
<rect x="79" y="163.4" width="18" height="2" fill="#000"/>
<rect x="79" y="125.2" width="18" height="2" fill="#000"/>
<rect x="130.6" y="491.5" width="2" height="17" fill="#000"/>
<rect x="183.2" y="491.5" width="2" height="17" fill="#000"/>
<rect x="235.8" y="491.5" width="2" height="17" fill="#000"/>
<rect x="288.4" y="491.5" width="2" height="17" fill="#000"/>
<rect x="341.0" y="491.5" width="2" height="17" fill="#000"/>
<rect x="393.6" y="491.5" width="2" height="17" fill="#000"/>
<rect x="446.2" y="491.5" width="2" height="17" fill="#000"/>
<rect x="498.8" y="491.5" width="2" height="17" fill="#000"/>
<rect x="551.4" y="491.5" width="2" height="17" fill="#000"/>
<rect x="604.0" y="491.5" width="2" height="17" fill="#000"/>
<rect x="170.50" y="617.5" width="30.47" height="19.5" fill="#FEFEFC" stroke="#000" stroke-width="1"/>
<rect x="200.97" y="617.5" width="30.47" height="19.5" fill="#AAAAFF" stroke="#000" stroke-width="1"/>
<rect x="231.44" y="617.5" width="30.47" height="19.5" fill="#5555FF" stroke="#000" stroke-width="1"/>
<rect x="261.91" y="617.5" width="30.47" height="19.5" fill="#0000FF" stroke="#000" stroke-width="1"/>
<rect x="292.38" y="617.5" width="30.47" height="19.5" fill="#0032AA" stroke="#000" stroke-width="1"/>
<rect x="322.85" y="617.5" width="30.47" height="19.5" fill="#0A7864" stroke="#000" stroke-width="1"/>
<rect x="353.32" y="617.5" width="30.47" height="19.5" fill="#0AAA14" stroke="#000" stroke-width="1"/>
<rect x="383.79" y="617.5" width="30.47" height="19.5" fill="#50C814" stroke="#000" stroke-width="1"/>
<rect x="414.26" y="617.5" width="30.47" height="19.5" fill="#A0DC14" stroke="#000" stroke-width="1"/>
<rect x="444.73" y="617.5" width="30.47" height="19.5" fill="#F5F50A" stroke="#000" stroke-width="1"/>
<rect x="475.20" y="617.5" width="30.47" height="19.5" fill="#FFB400" stroke="#000" stroke-width="1"/>
<rect x="505.67" y="617.5" width="30.47" height="19.5" fill="#FF6400" stroke="#000" stroke-width="1"/>
<rect x="536.14" y="617.5" width="30.47" height="19.5" fill="#FF0A0A" stroke="#000" stroke-width="1"/>
</svg>
<svg width="674" height="667" viewBox="0 0 674 667" style="position:absolute;left:0;top:0;will-change:transform">
<g font-family="Liberation Sans, sans-serif" fill="#000" stroke="#000" text-rendering="geometricPrecision" shape-rendering="auto">
<text transform="translate(79.46,13.10) scale(1.0224,1)" font-size="15.8" stroke-width="0.55" xml:space="preserve">W-E at 0S</text>
<text transform="translate(534.48,12.00) scale(0.9549,1)" font-size="11.3" stroke-width="0.75" xml:space="preserve">Init: 2018-10-12_00:00:00</text>
<text transform="translate(525.78,24.00) scale(0.9540,1)" font-size="11.3" stroke-width="0.75" xml:space="preserve">Valid: 2018-10-19_06:00:00</text>
<text transform="translate(81.71,59.40) scale(0.9736,1)" font-size="11.2" stroke-width="0.75" xml:space="preserve">Extinction WFA   (1/Mm)</text>
<text transform="translate(81.96,71.70) scale(0.9692,1)" font-size="11.2" stroke-width="0.75" xml:space="preserve">Cloud + Ice water mixing ratio   (g/kg)</text>
<text transform="translate(81.72,83.80) scale(0.9532,1)" font-size="11.2" stroke-width="0.75" xml:space="preserve">Main</text>
<text transform="translate(495.06,91.80) scale(0.9731,1)" font-size="10.0" stroke-width="0.7" xml:space="preserve">Cross-Section: (130,420) to (454,420)</text>
<text transform="translate(214.34,112.60) scale(1.0155,1)" font-size="16.8" stroke-width="0.45" xml:space="preserve">Cloud + Ice water mixing ratio Contours: .001 to .1 by .099</text>
<text transform="translate(322.23,563.70) scale(1.0192,1)" font-size="22.3" stroke-width="0.5" xml:space="preserve">longitude</text>
<text transform="translate(279.08,610.60) scale(1.0243,1)" font-size="16.7" stroke-width="0.5" xml:space="preserve">Extinction WFA  (1/Mm)</text>
<text transform="translate(34.87,132.00) scale(1.0333,1)" font-size="16.2" stroke-width="0.5" xml:space="preserve">10.0</text>
<text transform="translate(60.40,533.20) scale(1.0098,1)" font-size="16.2" stroke-width="0.5" xml:space="preserve">-20.1</text>
<text transform="translate(313.28,664.80) scale(1.0471,1)" font-size="16.0" stroke-width="0.5" xml:space="preserve">50</text>
<text transform="translate(44.17,514.40) scale(1.0333,1)" font-size="16.2" stroke-width="0.5" xml:space="preserve">0.0</text>
<text transform="translate(44.17,476.16) scale(1.0333,1)" font-size="16.2" stroke-width="0.5" xml:space="preserve">1.0</text>
<text transform="translate(44.17,437.92) scale(1.0333,1)" font-size="16.2" stroke-width="0.5" xml:space="preserve">2.0</text>
<text transform="translate(44.17,399.68) scale(1.0333,1)" font-size="16.2" stroke-width="0.5" xml:space="preserve">3.0</text>
<text transform="translate(44.17,361.44) scale(1.0333,1)" font-size="16.2" stroke-width="0.5" xml:space="preserve">4.0</text>
<text transform="translate(44.17,323.20) scale(1.0333,1)" font-size="16.2" stroke-width="0.5" xml:space="preserve">5.0</text>
<text transform="translate(44.17,284.96) scale(1.0333,1)" font-size="16.2" stroke-width="0.5" xml:space="preserve">6.0</text>
<text transform="translate(44.17,246.72) scale(1.0333,1)" font-size="16.2" stroke-width="0.5" xml:space="preserve">7.0</text>
<text transform="translate(44.17,208.48) scale(1.0333,1)" font-size="16.2" stroke-width="0.5" xml:space="preserve">8.0</text>
<text transform="translate(44.17,170.24) scale(1.0333,1)" font-size="16.2" stroke-width="0.5" xml:space="preserve">9.0</text>
<text transform="translate(113.05,533.20) scale(1.0098,1)" font-size="16.2" stroke-width="0.5" xml:space="preserve">-16.9</text>
<text transform="translate(165.52,533.20) scale(1.0098,1)" font-size="16.2" stroke-width="0.5" xml:space="preserve">-13.8</text>
<text transform="translate(218.12,533.20) scale(1.0098,1)" font-size="16.2" stroke-width="0.5" xml:space="preserve">-10.6</text>
<text transform="translate(275.14,533.20) scale(1.0098,1)" font-size="16.2" stroke-width="0.5" xml:space="preserve">-7.4</text>
<text transform="translate(327.99,533.20) scale(1.0098,1)" font-size="16.2" stroke-width="0.5" xml:space="preserve">-4.2</text>
<text transform="translate(380.59,533.20) scale(1.0098,1)" font-size="16.2" stroke-width="0.5" xml:space="preserve">-1.1</text>
<text transform="translate(435.84,533.20) scale(1.0098,1)" font-size="16.2" stroke-width="0.5" xml:space="preserve">2.1</text>
<text transform="translate(488.44,533.20) scale(1.0098,1)" font-size="16.2" stroke-width="0.5" xml:space="preserve">5.3</text>
<text transform="translate(540.91,533.20) scale(1.0098,1)" font-size="16.2" stroke-width="0.5" xml:space="preserve">8.4</text>
<text transform="translate(589.47,533.20) scale(1.0098,1)" font-size="16.2" stroke-width="0.5" xml:space="preserve">11.6</text>
<text transform="translate(641.44,533.20) scale(1.0098,1)" font-size="16.2" stroke-width="0.5" xml:space="preserve">14.8</text>
<text transform="translate(196.29,664.80) scale(1.0471,1)" font-size="16.0" stroke-width="0.5" xml:space="preserve">2</text>
<text transform="translate(252.12,664.80) scale(1.0471,1)" font-size="16.0" stroke-width="0.5" xml:space="preserve">10</text>
<text transform="translate(369.69,664.80) scale(1.0471,1)" font-size="16.0" stroke-width="0.5" xml:space="preserve">200</text>
<text transform="translate(430.89,664.80) scale(1.0471,1)" font-size="16.0" stroke-width="0.5" xml:space="preserve">400</text>
<text transform="translate(491.57,664.80) scale(1.0471,1)" font-size="16.0" stroke-width="0.5" xml:space="preserve">600</text>
<text transform="translate(17.00,360.73) rotate(-90) scale(1.0213,1)" font-size="22.3" stroke-width="0.5" xml:space="preserve">Height (km)</text>
</g>
</svg>
</body></html>
